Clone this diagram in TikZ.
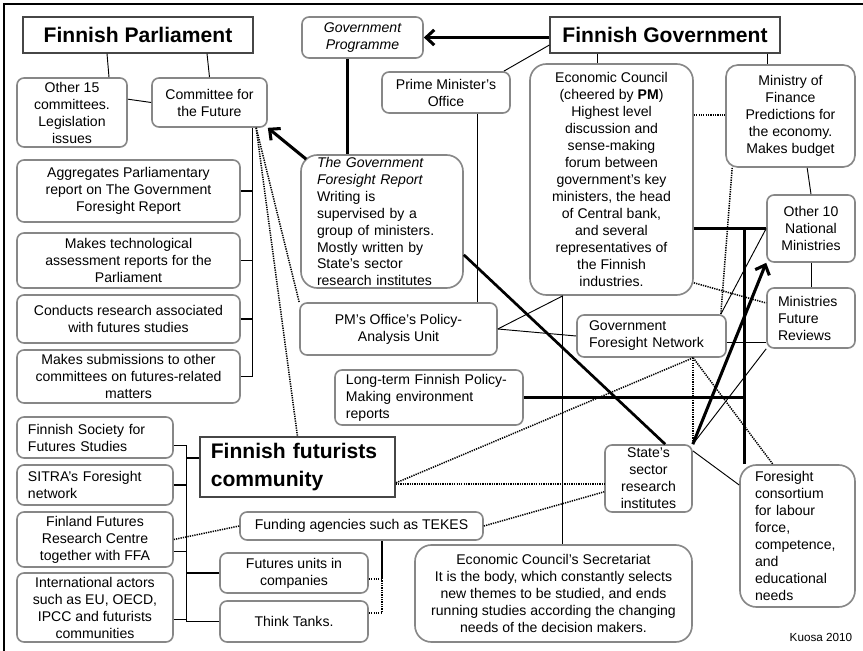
\documentclass[tikz,border=0pt]{standalone}
\usepackage{fontspec}
\setmainfont{Liberation Sans}
\usetikzlibrary{arrows.meta,positioning}
\definecolor{boxGray}{RGB}{135,135,135}
\definecolor{titleGray}{RGB}{70,70,70}
\tikzset{
  box/.style={draw=boxGray,line width=1.4pt,rounded corners=6pt,fill=white,align=center},
  bigbox/.style={box,rounded corners=14pt},
  title/.style={draw=titleGray,line width=1pt,fill=white,font=\fontsize{18}{24}\selectfont\bfseries},
  wh/.style 2 args={minimum width=#1cm,minimum height=#2cm},
  lft/.style 2 args={align=left,inner xsep=#1cm,text width=#2cm},
  link/.style={line width=0.8pt},
  bus/.style={line width=1pt},
  heavy/.style={line width=2.3pt},
  dots/.style={line width=1.3pt,dash pattern=on 1.1pt off 0.9pt},
  fat/.style={line width=2.6pt,->}
}

\begin{document}
\begin{tikzpicture}[x=0.03cm,y=-0.03cm,>={Straight Barb[length=7pt,width=13pt]},
  every node/.style={font=\fontsize{12}{14.5}\selectfont,inner sep=1pt}]
\useasboundingbox (0,0) rectangle (863,651);
\draw[line width=1pt] (880,4)--(4,4)--(4,670);

% parliament side
\node[title,wh={6.9}{1.08}] (parl) at (138,35) {Finnish Parliament};
\node[box,wh={3.3}{2.07}] (other15) at (72,112.5) {Other 15\\committees.\\Legislation\\issues};
\node[box,wh={3.45}{1.47}] (cftf) at (209.5,102.5) {Committee for\\the Future};
\node[box,wh={6.69}{1.86}] (aggr) at (128.5,191) {Aggregates Parliamentary\\report on The Government\\Foresight Report};
\node[box,wh={6.69}{1.65}] (techrep) at (128.5,260.5) {Makes technological\\assessment reports for the\\Parliament};
\node[box,wh={6.69}{1.44}] (research) at (128.5,319) {Conducts research associated\\with futures studies};
\node[box,wh={6.69}{1.59}] (submit) at (128.5,376.5) {Makes submissions to other\\committees on futures-related\\matters};

% government side
\node[box,wh={3.63}{1.23},font=\fontsize{12}{14.5}\selectfont\itshape] (govprog) at (362.5,37.5) {Government\\Programme};
\node[title,wh={6.9}{1.08}] (fingov) at (665,35) {Finnish Government};
\node[box,wh={3.84}{1.23}] (pmo) at (446,92.5) {Prime Minister's\\Office};
\node[bigbox,lft={0.48}{3.9},wh={4.86}{3.99},inner ysep=0pt] (report) at (382,221.5) {\textit{The Government}\\\textit{Foresight Report}\\Writing is\\supervised by a\\group of ministers.\\Mostly written by\\State's sector\\research institutes};
\node[bigbox,wh={4.89}{6.93}] (econ) at (611.5,179.5) {Economic Council\\(cheered by \textbf{PM})\\Highest level\\discussion and\\sense-making\\forum between\\government's key\\ministers, the head\\of Central bank,\\and several\\representatives of\\the Finnish\\industries.};
\node[box,rounded corners=10pt,wh={3.87}{3.06}] (mof) at (790.5,116) {Ministry of\\Finance\\Predictions for\\the economy.\\Makes budget};
\node[box,wh={2.64}{2.01}] (other10) at (811,228.5) {Other 10\\National\\Ministries};
\node[box,lft={0.33}{1.98},wh={2.64}{1.8}] (mfr) at (811,318) {Ministries\\Future\\Reviews};
\node[box,wh={5.91}{1.56}] (pmunit) at (398.5,329) {PM's Office's Policy-\\Analysis Unit};
\node[box,lft={0.33}{4.98},wh={5.64}{1.65}] (longterm) at (429,397.5) {Long-term Finnish Policy-\\Making environment\\reports};
\node[box,lft={0.36}{3.75},wh={4.47}{1.26}] (gfn) at (651.5,336) {Government\\Foresight Network};
\node[box,wh={2.61}{2.01}] (sector) at (648.5,478.5) {State's\\sector\\research\\institutes};
\node[bigbox,lft={0.45}{2.55},wh={3.45}{4.26}] (consort) at (797.5,536) {Foresight\\consortium\\for labour\\force,\\competence,\\and\\educational\\needs};
\node[bigbox,wh={8.31}{2.91}] (secret) at (553.5,593.5) {Economic Council's Secretariat\\It is the body, which constantly selects\\new themes to be studied, and ends\\running studies according the changing\\needs of the decision makers.};

% futurists side
\node[title,align=left,inner xsep=0.325cm,text width=5.2cm,wh={5.85}{1.8}] (futur) at (297.5,467) {Finnish futurists\\community};
\node[box,lft={0.33}{4.02},wh={4.68}{1.23}] (fsfs) at (95,437.5) {Finnish Society for\\Futures Studies};
\node[box,lft={0.33}{4.02},wh={4.68}{1.2}] (sitra) at (95,485) {SITRA's Foresight\\network};
\node[box,wh={4.68}{1.65}] (ffrc) at (95,539.5) {Finland Futures\\Research Centre\\together with FFA};
\node[box,wh={4.68}{2.07}] (intl) at (95,607.5) {International actors\\such as EU, OECD,\\IPCC and futurists\\communities};
\node[box,wh={7.29}{0.84}] (funding) at (361.5,526) {Funding agencies such as TEKES};
\node[box,wh={4.44}{1.2}] (futunits) at (294,573) {Futures units in\\companies};
\node[box,wh={4.44}{1.23}] (tanks) at (294,621.5) {Think Tanks.};
\node[font=\fontsize{10}{12}\selectfont] (credit) at (821,637) {Kuosa 2010};

% parliament links
\draw[link] ([xshift=-0.93cm]parl.south)--([xshift=1.11cm]other15.north);
\draw[link] ([xshift=2.07cm]parl.south)--(cftf.north);
\draw[link] ([yshift=0.4cm]other15.east)--(cftf.west);
\coordinate (cfbus) at ([xshift=1.28cm]cftf.south);
\foreach \t in {aggr,techrep,research,submit} \draw[bus] (\t.east) -| (cfbus);
\coordinate (cfdot) at ([xshift=1.4cm]cftf.south);
\draw[dots] (cfdot)--(pmunit.north west); \draw[dots] (cfdot)--(futur.north);
\draw[fat] ([xshift=0.18cm,yshift=-0.15cm]report.north west)--(cftf.south east);

% government links
\draw[fat] (govprog.east -| fingov.west)--(govprog.east);
\coordinate (gpdown) at ([xshift=-0.44cm]govprog.south);
\draw[heavy] (gpdown)--(gpdown |- report.north);
\draw[link] ([yshift=-0.3cm]fingov.west)--([xshift=-0.21cm]pmo.north east);
\coordinate (pmodown) at ([xshift=0.93cm]pmo.south);
\draw[link] (pmodown)--(pmodown |- pmunit.north);
\coordinate (fgl) at ([xshift=-2.04cm]fingov.south);
\coordinate (fgr) at ([xshift=3.06cm]fingov.south);
\draw[link] (fgl)--(fgl |- econ.north); \draw[link] (fgr)--(fgr |- mof.north);
\coordinate (ecmof) at ([yshift=1.94cm]econ.east);
\draw[dots] (ecmof)--(ecmof -| mof.west);
\draw[link] ([xshift=0.5cm]mof.south)--(other10.north);
\draw[link] (other10.south)--(mfr.north);
\draw[dots] ([yshift=0.39cm]econ.south east)--([yshift=0.45cm]mfr.west);
\draw[dots] ([xshift=0.21cm]mof.south west)--([xshift=-0.18cm]gfn.north east);
\draw[link] ([xshift=-0.18cm]gfn.north east)--(other10.west);
\coordinate (gfnm) at ([yshift=-0.18cm]gfn.east);
\draw[link] (gfnm)--(gfnm -| mfr.west);
\draw[heavy] (other10.west -| econ.east)--(other10.west);
\coordinate (ecbus) at ([xshift=0.15cm]consort.north west);
\draw[heavy] (ecbus)--(ecbus |- other10.west);
\draw[heavy] (longterm.east)--(longterm.east -| ecbus);
\draw[heavy] ([yshift=-1cm]report.east)--([xshift=0.5cm]sector.north);
\coordinate (ecsec) at ([xshift=-1.46cm]econ.south);
\draw[link] (pmunit.east)--(ecsec); \draw[link] (ecsec)--(ecsec |- secret.north);
\draw[link] (pmunit.east)--(gfn.west);
\draw[fat] (sector.north east)--(other10.south west);
\draw[link] (sector.north east)--(mfr.south west);
\draw[link] ([yshift=-0.2cm]sector.north east)--([yshift=1.53cm]consort.west);
\coordinate (gfnb) at ([xshift=1.25cm]gfn.south);
\draw[dots] (gfnb)--(gfnb |- sector.north);
\draw[dots] (gfnb)--([xshift=-0.74cm]consort.north);
\draw[dots] (gfnb)--([yshift=-0.48cm]futur.east);

% futurists links
\coordinate (fs) at ([yshift=-0.51cm]futur.east);
\draw[dots] (fs)--(fs -| sector.west);
\draw[dots] (funding.east)--([yshift=-0.4cm]sector.west);
\draw[dots] (funding.west)--(ffrc.east);
\coordinate (fbus) at ([xshift=-0.39cm]futur.west);
\foreach \s/\d in {fsfs/-0.23,sitra/0,ffrc/-0.37,intl/-0.37} \draw[bus] ([yshift=\d cm]\s.east) -| (fbus);
\draw[bus] ([yshift=0.27cm]futur.west) -| (fbus);
\draw[bus] (futunits.west) -| (fbus); \draw[bus] (tanks.west) -| (fbus);
\coordinate (tbus) at ([xshift=0.62cm]funding.south);
\draw[dots] ([yshift=-0.18cm]futunits.east) -| (tbus);
\draw[dots] ([yshift=0.26cm]tanks.east) -| (tbus);
\end{tikzpicture}
\end{document}
